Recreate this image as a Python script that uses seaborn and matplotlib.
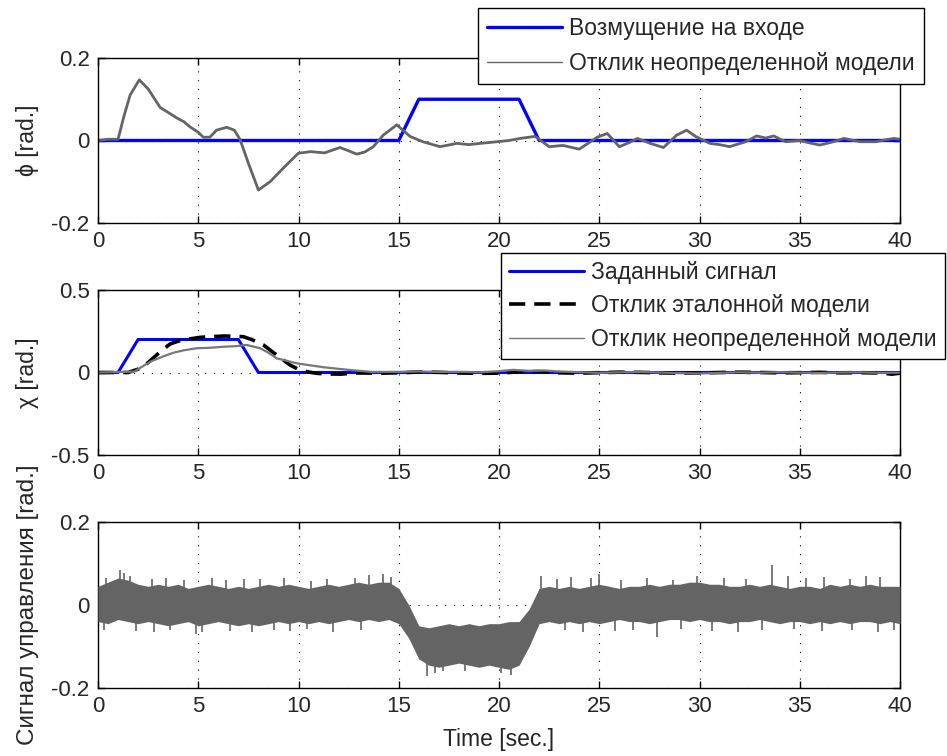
import numpy as np
import pandas as pd
import seaborn as sns
import matplotlib.pyplot as plt

# ---- top panel: phi ----
dist_t = [0, 15, 16, 21, 22, 40]
dist_v = [0, 0, 0.1, 0.1, 0, 0]

phi_t = [0, 0.5, 1.0, 1.3, 1.6, 2.06, 2.5, 3.1, 3.5, 3.92, 4.3, 4.59, 5.0, 5.25, 5.58, 5.91,
         6.42, 6.8, 7.08, 7.5, 8.0, 8.58, 9.24, 9.99, 10.6, 11.3, 12.07, 12.5, 12.9, 13.3,
         13.73, 14.23, 14.9, 15.56, 16.2, 17.06, 17.9, 18.5, 19.05, 19.9, 20.5, 21.05, 21.8,
         22.5, 23.2, 24.0, 24.9, 25.4, 26.0, 26.5, 26.9, 27.55, 28.2, 28.86, 29.36, 29.8,
         30.52, 31.0, 31.5, 32.3, 32.85, 33.3, 33.7, 34.3, 35.0, 35.5, 36.0, 36.6, 37.2,
         38.0, 38.8, 39.3, 39.7, 40.0]
phi_v = [0, 0.003, 0.003, 0.06, 0.11, 0.147, 0.125, 0.08, 0.068, 0.055, 0.045, 0.033, 0.02,
         0.008, 0.008, 0.025, 0.032, 0.025, 0.003, -0.055, -0.12, -0.1, -0.067, -0.031, -0.027,
         -0.03, -0.017, -0.025, -0.033, -0.028, -0.015, 0.013, 0.038, 0.01, -0.003, -0.015,
         -0.007, -0.01, -0.007, -0.003, 0.0, 0.005, 0.01, -0.015, -0.012, -0.021, 0.008, 0.017,
         -0.015, -0.005, 0.005, -0.007, -0.017, 0.013, 0.025, 0.01, -0.007, -0.01, -0.015,
         -0.003, 0.011, 0.006, 0.011, -0.003, 0.0, -0.006, -0.011, -0.004, 0.005, -0.003,
         -0.003, 0.002, 0.005, 0.003]

# ---- middle panel: chi ----
ref_t = [0, 1, 2, 7, 8, 40]
ref_v = [0, 0, 0.2, 0.2, 0, 0]

ideal_t = [0, 1.5, 2.0, 2.5, 2.92, 3.3, 3.6, 4.0, 4.26, 4.7, 5.09, 5.6, 6.25, 6.8, 7.25,
           7.66, 8.25, 8.91, 9.58, 10.07, 10.5, 10.9, 11.5, 12.1, 12.9, 14, 15, 16, 17, 18,
           19, 20, 21, 22, 23, 24, 25, 26, 27, 28, 29, 30, 31, 32, 33, 34, 35, 36, 37, 38,
           39, 39.6, 40]
ideal_v = [0, 0, 0.02, 0.06, 0.106, 0.145, 0.173, 0.19, 0.197, 0.206, 0.213, 0.217, 0.221,
           0.22, 0.217, 0.2, 0.167, 0.106, 0.045, 0.015, 0.003, -0.005, -0.009, -0.01,
           -0.003, -0.004, -0.002, 0.003, 0.001, -0.003, -0.005, -0.004, 0.004, 0.006,
           -0.002, -0.004, -0.001, 0.002, 0.001, -0.002, -0.004, -0.003, 0.0, 0.002, 0.0,
           -0.002, -0.001, 0.001, -0.002, -0.001, -0.003, -0.01, -0.004]

unc_t = [0, 1.8, 2.6, 3.2, 3.76, 4.3, 4.92, 5.6, 6.25, 6.9, 7.41, 8.08, 8.5, 8.91, 9.9,
         10.5, 11.24, 12.57, 13.7, 15, 16, 17, 18, 19, 20, 20.7, 21.5, 22.3, 23, 24, 25, 26,
         27, 28, 29, 30, 31, 32, 33, 34, 35, 36, 37, 38, 39, 40]
unc_v = [0, 0.005, 0.065, 0.095, 0.12, 0.135, 0.147, 0.15, 0.156, 0.16, 0.167, 0.147, 0.12,
         0.086, 0.056, 0.045, 0.032, 0.015, 0.003, 0.004, 0.006, 0.003, 0.004, 0.001, 0.008,
         0.016, 0.01, 0.012, 0.006, 0.002, -0.002, 0.001, 0.003, 0.0, -0.004, -0.006, -0.002,
         0.001, -0.001, 0.002, -0.001, -0.003, 0.0, 0.001, -0.002, -0.001]

# ---- bottom panel: control signal (band edges every 0.5 s) ----
ctrl_t = np.arange(0, 40.5, 0.5)
ctrl_hi = [0.045, 0.055, 0.065, 0.06, 0.05, 0.045, 0.05, 0.045, 0.05, 0.04, 0.045, 0.05, 0.045,
           0.04, 0.045, 0.04, 0.045, 0.05, 0.045, 0.05, 0.045, 0.04, 0.045, 0.05, 0.045, 0.05,
           0.055, 0.05, 0.055, 0.055, 0.04, 0.0, -0.05, -0.055, -0.05, -0.045, -0.05, -0.045,
           -0.05, -0.045, -0.045, -0.04, -0.04, -0.01, 0.04, 0.045, 0.04, 0.045, 0.04, 0.045,
           0.05, 0.045, 0.04, 0.045, 0.045, 0.05, 0.045, 0.05, 0.05, 0.055, 0.055, 0.05, 0.05,
           0.045, 0.045, 0.05, 0.045, 0.05, 0.045, 0.04, 0.045, 0.045, 0.04, 0.05, 0.045, 0.05,
           0.045, 0.05, 0.045, 0.045, 0.045]
ctrl_lo = [-0.04, -0.045, -0.035, -0.04, -0.045, -0.04, -0.045, -0.05, -0.045, -0.04, -0.05,
           -0.045, -0.04, -0.045, -0.05, -0.045, -0.05, -0.045, -0.04, -0.045, -0.04, -0.045,
           -0.04, -0.045, -0.04, -0.035, -0.04, -0.035, -0.04, -0.035, -0.045, -0.08, -0.13,
           -0.145, -0.15, -0.145, -0.14, -0.145, -0.15, -0.145, -0.15, -0.155, -0.145, -0.1,
           -0.045, -0.04, -0.045, -0.04, -0.045, -0.04, -0.045, -0.04, -0.035, -0.04, -0.04,
           -0.045, -0.04, -0.035, -0.035, -0.04, -0.035, -0.04, -0.04, -0.045, -0.04, -0.04,
           -0.035, -0.04, -0.045, -0.04, -0.04, -0.045, -0.04, -0.045, -0.04, -0.045, -0.04,
           -0.04, -0.045, -0.04, -0.045]
spike_up_t = [0.4, 1.1, 1.3, 1.6, 2.7, 3.4, 4.3, 5.7, 6.4, 7.3, 8.1, 9.3, 10.6, 11.4, 12.8,
              13.5, 14.2, 14.6, 22.1, 22.9, 23.6, 24.6, 25.0, 26.1, 27.4, 28.7, 29.9, 31.2,
              32.3, 33.6, 34.4, 35.3, 36.2, 37.5, 38.3, 39.0]
spike_up_v = [0.065, 0.085, 0.078, 0.07, 0.062, 0.065, 0.06, 0.065, 0.06, 0.062, 0.063, 0.065,
              0.058, 0.063, 0.065, 0.072, 0.075, 0.068, 0.07, 0.062, 0.068, 0.065, 0.075, 0.06,
              0.065, 0.06, 0.07, 0.065, 0.062, 0.097, 0.07, 0.065, 0.068, 0.062, 0.07, 0.068]
spike_dn_t = [0.3, 1.9, 2.8, 3.6, 4.9, 5.2, 6.6, 7.7, 8.8, 9.6, 10.4, 11.7, 13.1, 16.4, 16.8,
              17.2, 18.3, 20.1, 20.6, 23.3, 24.2, 25.8, 26.7, 27.9, 29.1, 30.6, 31.9, 33.1,
              34.7, 36.1, 37.6, 38.9, 39.7]
spike_dn_v = [-0.06, -0.062, -0.065, -0.06, -0.07, -0.065, -0.062, -0.065, -0.06, -0.062,
              -0.058, -0.065, -0.06, -0.17, -0.165, -0.16, -0.16, -0.165, -0.168, -0.06,
              -0.065, -0.062, -0.06, -0.078, -0.058, -0.062, -0.065, -0.06, -0.058, -0.062,
              -0.06, -0.065, -0.06]

sns.set_style("ticks")
plt.rcParams['font.family'] = ['Liberation Sans', 'DejaVu Sans']
plt.rcParams['xtick.direction'] = 'in'
plt.rcParams['ytick.direction'] = 'in'
plt.rcParams['xtick.top'] = True
plt.rcParams['ytick.right'] = True
plt.rcParams['axes.edgecolor'] = 'black'
plt.rcParams['axes.linewidth'] = 1.0

W, H = 947, 756
fig = plt.figure(figsize=(W / 100, H / 100), dpi=100)

def px_axes(top, bottom, left=98, right=900):
    return fig.add_axes([left / W, 1 - bottom / H, (right - left) / W, (bottom - top) / H])

ax1 = px_axes(58, 223)
ax2 = px_axes(290, 455)
ax3 = px_axes(522, 688)

BLUE = '#0000ff'
GRAY = '#646464'

sns.lineplot(x=dist_t, y=dist_v, ax=ax1, color=BLUE, lw=2.4, label='Возмущение на входе')
sns.lineplot(x=phi_t, y=phi_v, ax=ax1, color=GRAY, lw=2.0, label='Отклик неопределенной модели')

sns.lineplot(x=ref_t, y=ref_v, ax=ax2, color=BLUE, lw=2.2, label='Заданный сигнал')
sns.lineplot(x=ideal_t, y=ideal_v, ax=ax2, color='black', lw=2.6, linestyle=(0, (4.5, 2.5)),
             label='Отклик эталонной модели')
sns.lineplot(x=unc_t, y=unc_v, ax=ax2, color='#777777', lw=1.6, label='Отклик неопределенной модели')

# spikes start from the middle of the band, band drawn on top so only the tips show
band_mid = (np.array(ctrl_hi) + np.array(ctrl_lo)) / 2
ax3.vlines(spike_up_t, np.interp(spike_up_t, ctrl_t, band_mid), spike_up_v,
           color=GRAY, lw=1.2, zorder=2)
ax3.vlines(spike_dn_t, np.interp(spike_dn_t, ctrl_t, band_mid), spike_dn_v,
           color=GRAY, lw=1.2, zorder=2)
ax3.fill_between(ctrl_t, ctrl_lo, ctrl_hi, color=GRAY, lw=0, zorder=3)

limits = [(-0.2, 0.2, [-0.2, 0, 0.2], ['-0.2', '0', '0.2']),
          (-0.5, 0.5, [-0.5, 0, 0.5], ['-0.5', '0', '0.5']),
          (-0.2, 0.2, [-0.2, 0, 0.2], ['-0.2', '0', '0.2'])]
for ax, (lo, hi, yt, yl) in zip([ax1, ax2, ax3], limits):
    ax.set_xlim(0, 40)
    ax.set_ylim(lo, hi)
    ax.set_xticks(range(0, 41, 5))
    ax.set_yticks(yt)
    ax.set_yticklabels(yl)
    ax.grid(True, color='black', lw=0.8, linestyle=(0, (1, 7)))
    ax.set_axisbelow(True)
    ax.tick_params(labelsize=16, length=5, width=1, color='black', pad=6)
    for s in ax.spines.values():
        s.set_visible(True)
        s.set_color('black')
    if ax.get_legend() is not None:
        ax.get_legend().remove()

ax1.set_ylabel('ϕ [rad.]', fontsize=16.5)
ax2.set_ylabel('χ [rad.]', fontsize=16.5)
ax3.set_ylabel('Сигнал управления [rad.]', fontsize=17.5)
for ax in [ax1, ax2, ax3]:
    ax.yaxis.set_label_coords(-0.074, 0.5)
ax3.set_xlabel('Time [sec.]', fontsize=16.5, labelpad=8)

h1, l1 = ax1.get_legend_handles_labels()
leg1 = fig.legend(h1, l1, loc='upper right', bbox_to_anchor=(924 / W, 1 - 8 / H),
                  fontsize=16.5, frameon=True, fancybox=False, framealpha=1, edgecolor='black',
                  handlelength=3.3, handletextpad=0.3, borderpad=0.4, labelspacing=0.5,
                  borderaxespad=0)
leg1.get_frame().set_linewidth(1.0)
leg1.get_lines()[1].set_linewidth(1.0)

h2, l2 = ax2.get_legend_handles_labels()
leg2 = fig.legend(h2, l2, loc='upper right', bbox_to_anchor=(945 / W, 1 - 253 / H),
                  fontsize=16.5, frameon=True, fancybox=False, framealpha=1, edgecolor='black',
                  handlelength=3.3, handletextpad=0.3, borderpad=0.35, labelspacing=0.45,
                  borderaxespad=0)
leg2.get_frame().set_linewidth(1.0)
leg2.get_lines()[2].set_linewidth(1.0)

fig.savefig('out.png', dpi=100)
